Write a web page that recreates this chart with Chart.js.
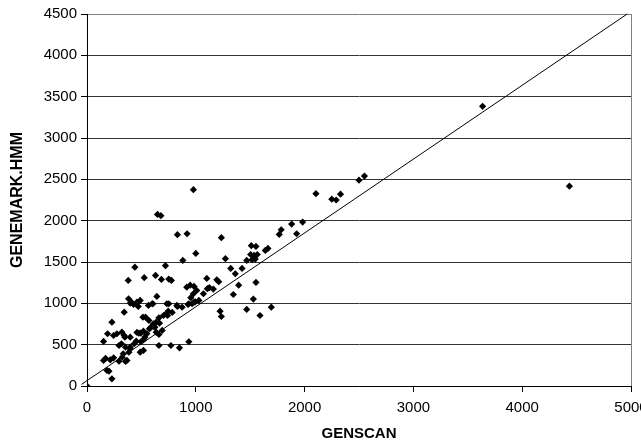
<!DOCTYPE html>
<html>
<head>
<meta charset="utf-8">
<script src="https://cdn.jsdelivr.net/npm/chart.js@4/dist/chart.umd.min.js"></script>
<style>
  body { margin: 0; background: #fff; }
  canvas { display: block; }
</style>
</head>
<body>
<canvas id="geneChart" width="641" height="448"></canvas>
<script>
// GENSCAN length (x) vs GENEMARK.HMM length (y)
const genscan = [
    0, 978, 2104, 648, 679, 1881, 1982, 1785, 1767, 1927,
    831, 920, 1235, 1000, 881, 1272, 1510, 1553, 1504, 1535,
    1565, 1639, 1663, 1468, 1517, 1547, 440, 379, 526, 630,
    721, 684, 752, 776, 1321, 1363, 1425, 1101, 1193, 1211,
    1394, 1553, 1345, 1529, 1694, 1590, 1468, 1223, 1235, 342,
    397, 428, 489, 471, 606, 642, 752, 831, 917, 948,
    984, 1008, 978, 954, 929, 966, 996, 1028, 1125, 1161,
    348, 397, 514, 538, 459, 495, 569, 587, 611, 661,
    771, 850, 936, 229, 183, 202, 152, 171, 214, 245,
    294, 354, 152, 189, 229, 244, 275, 321, 342, 294,
    317, 354, 385, 397, 434, 452, 519, 495, 519, 477,
    519, 550, 574, 611, 636, 661, 703, 727, 746, 382,
    409, 459, 734, 826, 565, 599, 333, 367, 324, 397,
    532, 624, 666, 740, 783, 874, 936, 984, 636, 661,
    691, 489, 1070, 1106, 2250, 2290, 2330, 2500, 2550, 3636,
    4434
];
const genemark = [
    0, 2375, 2326, 2076, 2060, 1959, 1983, 1890, 1834, 1842,
    1830, 1842, 1794, 1604, 1519, 1540, 1697, 1688, 1591, 1579,
    1591, 1640, 1664, 1519, 1527, 1535, 1438, 1277, 1310, 1338,
    1455, 1289, 1293, 1277, 1422, 1358, 1422, 1301, 1285, 1261,
    1220, 1253, 1107, 1051, 954, 853, 926, 905, 841, 893,
    1002, 986, 1035, 962, 995, 1083, 995, 962, 1196, 1220,
    1204, 1156, 1116, 1068, 986, 995, 1019, 1035, 1189, 1172,
    591, 591, 833, 833, 648, 639, 793, 712, 753, 490,
    490, 462, 535, 87, 188, 179, 309, 333, 317, 341,
    300, 297, 539, 632, 772, 611, 632, 651, 611, 490,
    511, 470, 409, 450, 511, 542, 430, 535, 559, 639,
    663, 632, 692, 720, 772, 825, 853, 874, 905, 1055,
    1014, 1014, 995, 975, 975, 995, 390, 309, 349, 470,
    591, 712, 760, 853, 890, 954, 995, 1014, 651, 623,
    672, 409, 1116, 1177, 2260, 2250, 2320, 2490, 2540, 3383,
    2417
];
// reference line drawn across the plot
const refLineX = [-50, 4965];
const refLineY = [20, 4500];

const xTicks = [0, 1000, 2000, 3000, 4000, 5000];
const yTicks = [0, 500, 1000, 1500, 2000, 2500, 3000, 3500, 4000, 4500];

const pontos = genscan.map((x, i) => ({ x: x, y: genemark[i] }));
const linha = refLineX.map((x, i) => ({ x: x, y: refLineY[i] }));

const fonte = { family: "'Liberation Sans', Arial, sans-serif", size: 15 };
const fonteTituloX = { family: "'Liberation Sans', Arial, sans-serif", size: 15, weight: 'bold' };
const fonteTituloY = { family: "'Liberation Sans', Arial, sans-serif", size: 16, weight: 'bold' };

const ctx = document.getElementById("geneChart");

new Chart(ctx, {
    type: 'scatter',
    data: {
        datasets: [
            {
                label: 'genes',
                data: pontos,
                pointStyle: 'rectRot',
                pointRadius: 3.6,
                backgroundColor: '#000',
                borderColor: '#000',
                borderWidth: 0
            },
            {
                type: 'line',
                label: 'y = x',
                data: linha,
                borderColor: '#000',
                borderWidth: 1,
                pointRadius: 0,
                clip: false
            }
        ]
    },
    options: {
        responsive: false,
        animation: false,
        events: [],
        layout: { padding: { top: 14, right: 10, left: 0, bottom: 0 } },
        plugins: {
            legend: { display: false },
            tooltip: { enabled: false }
        },
        scales: {
            x: {
                type: 'linear',
                min: 0,
                max: 5000,
                afterBuildTicks: (s) => { s.ticks = xTicks.map(v => ({ value: v })); },
                afterFit: (s) => { s.height = 62; s.paddingLeft = 0; s.paddingRight = 0; },
                ticks: { color: '#000', font: fonte, padding: 7, maxRotation: 0, callback: (v) => String(v) },
                grid: {
                    color: (c) => (c.tick && c.tick.value === 5000) ? '#808080' : 'rgba(0,0,0,0)',
                    tickColor: '#000',
                    tickLength: 6
                },
                border: { color: '#000' },
                title: { display: true, text: 'GENSCAN', color: '#000', font: fonteTituloX, padding: { top: 5, bottom: 5 } }
            },
            y: {
                type: 'linear',
                min: 0,
                max: 4500,
                afterBuildTicks: (s) => { s.ticks = yTicks.map(v => ({ value: v })); },
                afterFit: (s) => { s.width = 87; s.paddingTop = 0; s.paddingBottom = 0; },
                ticks: { color: '#000', font: fonte, padding: 4, callback: (v) => String(v) },
                grid: {
                    color: (c) => (c.tick && c.tick.value === 4500) ? '#808080' : '#333',
                    tickColor: '#000',
                    tickLength: 6
                },
                border: { color: '#000' },
                title: { display: true, text: 'GENEMARK.HMM', color: '#000', font: fonteTituloY, padding: { top: 8, bottom: 8 } }
            }
        }
    }
});
</script>
</body>
</html>
